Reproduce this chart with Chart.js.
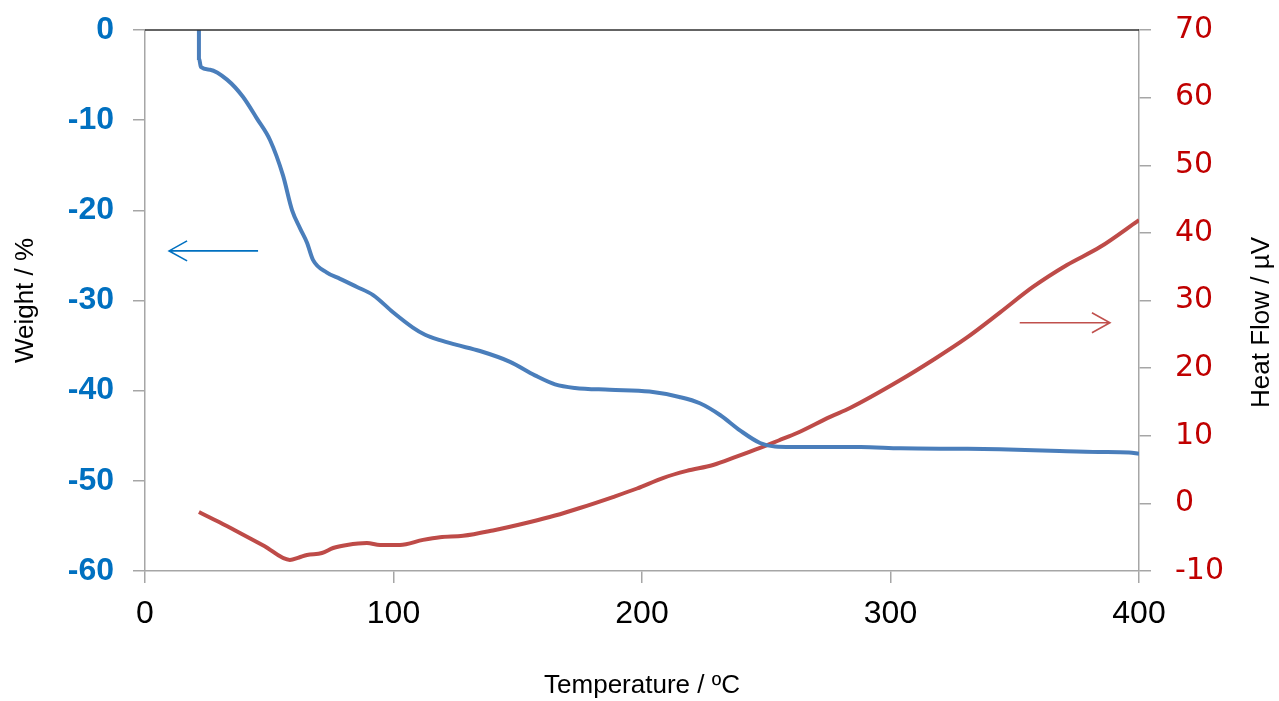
<!DOCTYPE html>
<html>
<head>
<meta charset="utf-8">
<script src="https://cdn.jsdelivr.net/npm/chart.js@4.4.1/dist/chart.umd.min.js"></script>
<style>
  html, body { margin: 0; padding: 0; background: #ffffff; }
  #wrap { position: relative; width: 1279px; height: 701px; }
</style>
</head>
<body>
<div id="wrap"><canvas id="c"></canvas></div>
<script>
// ---- data ----
const weightTemp = [21.7, 21.7, 22.5, 26.2, 33, 39.4, 45, 50.3, 55.5, 59.2, 62.4, 65.2, 67.6, 73.2, 78.5, 85.3, 91.8, 99.8, 107.8, 112.7, 118.7, 125, 134.8, 146.9, 156.9, 165, 173, 187, 203, 215, 223.3, 231.4, 239.4, 247.5, 253.5, 260, 288, 304, 330, 344, 368, 384, 396, 400];
const weightPct  = [0, -3.1, -4.1, -4.4, -5.5, -7.4, -9.8, -12.2, -16.1, -20, -22, -23.6, -25.5, -26.9, -27.6, -28.5, -29.4, -31.3, -33.0, -33.8, -34.4, -34.9, -35.6, -36.8, -38.3, -39.3, -39.7, -39.9, -40.1, -40.7, -41.4, -42.7, -44.4, -45.8, -46.2, -46.25, -46.25, -46.4, -46.45, -46.5, -46.7, -46.8, -46.85, -47.0];

const heatTemp = [21.7, 30, 38.2, 48, 58.3, 62, 65.2, 71.2, 75.7, 81.3, 89.3, 94.6, 102.6, 111.9, 118.7, 128, 140, 155, 165, 175, 188.3, 198, 208.4, 218, 228.6, 238, 247.5, 255, 262.4, 275.7, 283.7, 303.8, 317.1, 330.7, 344, 357.3, 371, 384.3, 400];
const heatFlow = [-1.28, -2.8, -4.38, -6.3, -8.37, -8.0, -7.63, -7.34, -6.6, -6.15, -5.86, -6.15, -6.15, -5.4, -5.0, -4.8, -4.0, -2.75, -1.8, -0.68, 0.94, 2.2, 3.75, 4.8, 5.67, 6.9, 8.2, 9.3, 10.4, 12.8, 14.1, 18.2, 21.2, 24.5, 28.2, 32.0, 35.25, 37.9, 41.9];

const xTicks = [0, 100, 200, 300, 400];
const weightTicks = [0, -10, -20, -30, -40, -50, -60];
const heatTicks = [70, 60, 50, 40, 30, 20, 10, 0, -10];

// annotation arrows (in data units: temperature, value, axis)
const arrowWeight = { from: 45.5, to: 9.7, value: -24.5, axis: 'y' };
const arrowHeat   = { from: 352, to: 388.3, value: 26.7, axis: 'y1' };

const weightPoints = weightTemp.map((t, i) => ({ x: t, y: weightPct[i] }));
const heatPoints = heatTemp.map((t, i) => ({ x: t, y: heatFlow[i] }));

const extras = {
  id: 'extras',
  beforeDraw(chart) {
    const ctx = chart.ctx;
    ctx.save();
    ctx.fillStyle = '#ffffff';
    ctx.fillRect(0, 0, chart.width, chart.height);
    ctx.restore();
  },
  afterDraw(chart) {
    const ctx = chart.ctx;
    const a = chart.chartArea;
    const xs = chart.scales.x;
    ctx.save();
    // top border
    ctx.strokeStyle = '#303030';
    ctx.lineWidth = 1.5;
    ctx.beginPath();
    ctx.moveTo(a.left, a.top);
    ctx.lineTo(a.right, a.top);
    ctx.stroke();

    function arrow(def, color) {
      const ys = chart.scales[def.axis];
      const x1 = xs.getPixelForValue(def.from);
      const x2 = xs.getPixelForValue(def.to);
      const y = ys.getPixelForValue(def.value);
      const dir = Math.sign(x2 - x1);
      ctx.strokeStyle = color;
      ctx.lineWidth = 1.6;
      ctx.beginPath();
      ctx.moveTo(x1, y);
      ctx.lineTo(x2, y);
      ctx.moveTo(x2 - dir * 18, y - 10);
      ctx.lineTo(x2, y);
      ctx.lineTo(x2 - dir * 18, y + 10);
      ctx.stroke();
    }
    arrow(arrowWeight, '#0070C0');
    arrow(arrowHeat, '#C0504D');

    // right axis title (reads bottom-to-top)
    const ys1 = chart.scales.y1;
    ctx.translate(1262, (ys1.top + ys1.bottom) / 2 + 22);
    ctx.rotate(-Math.PI / 2);
    ctx.fillStyle = '#000000';
    ctx.font = '26px "Liberation Sans", Arial, sans-serif';
    ctx.textAlign = 'center';
    ctx.textBaseline = 'middle';
    ctx.fillText('Heat Flow / µV', 0, 0);
    ctx.restore();
  }
};

const axisGrey = '#A6A6A6';

new Chart(document.getElementById('c'), {
  type: 'line',
  data: {
    datasets: [
      {
        label: 'Weight',
        data: weightPoints,
        yAxisID: 'y',
        borderColor: '#4A7EBB',
        borderWidth: 4,
        pointRadius: 0,
        cubicInterpolationMode: 'monotone',
        fill: false
      },
      {
        label: 'Heat Flow',
        data: heatPoints,
        yAxisID: 'y1',
        borderColor: '#BE4B48',
        borderWidth: 4,
        pointRadius: 0,
        cubicInterpolationMode: 'monotone',
        fill: false
      }
    ]
  },
  options: {
    responsive: true,
    maintainAspectRatio: false,
    animation: false,
    layout: { padding: { top: 30, left: 0, right: 0, bottom: 0 } },
    plugins: {
      legend: { display: false },
      tooltip: { enabled: false }
    },
    scales: {
      x: {
        type: 'linear',
        min: 0,
        max: 400,
        afterBuildTicks(s) { s.ticks = xTicks.map(v => ({ value: v })); },
        afterFit(s) { s.height = 130; s.paddingLeft = 0; s.paddingRight = 0; },
        grid: { drawOnChartArea: false, drawTicks: true, tickLength: 12, color: axisGrey, lineWidth: 1.5 },
        border: { color: axisGrey, width: 1.5 },
        ticks: {
          color: '#000000',
          padding: 12,
          font: { family: '"Liberation Sans", Arial, sans-serif', size: 32 }
        },
        title: {
          display: true,
          text: 'Temperature / ºC',
          color: '#000000',
          padding: { top: 0, bottom: 0 },
          font: { family: '"Liberation Sans", Arial, sans-serif', size: 26 }
        }
      },
      y: {
        type: 'linear',
        position: 'left',
        min: -60,
        max: 0,
        afterBuildTicks(s) { s.ticks = weightTicks.slice().reverse().map(v => ({ value: v })); },
        afterFit(s) { s.width = 145; s.paddingTop = 0; s.paddingBottom = 0; },
        grid: { drawOnChartArea: false, drawTicks: true, tickLength: 12, color: axisGrey, lineWidth: 1.5 },
        border: { color: axisGrey, width: 1.5 },
        ticks: {
          color: '#0070C0',
          padding: 19,
          font: { family: '"Liberation Sans", Arial, sans-serif', size: 32, weight: 'bold' }
        },
        title: {
          display: true,
          text: 'Weight / %',
          color: '#000000',
          padding: { top: 10, bottom: 0 },
          font: { family: '"Liberation Sans", Arial, sans-serif', size: 26 }
        }
      },
      y1: {
        type: 'linear',
        position: 'right',
        min: -10,
        max: 70,
        afterBuildTicks(s) { s.ticks = heatTicks.slice().reverse().map(v => ({ value: v })); },
        afterFit(s) { s.width = 140; s.paddingTop = 0; s.paddingBottom = 0; },
        grid: { drawOnChartArea: false, drawTicks: true, tickLength: 12, color: axisGrey, lineWidth: 1.5 },
        border: { color: axisGrey, width: 1.5 },
        ticks: {
          color: '#C00000',
          padding: 24,
          font: { family: '"DejaVu Sans", Verdana, sans-serif', size: 30 }
        },
        title: { display: false }
      }
    }
  },
  plugins: [extras]
});
</script>
</body>
</html>
